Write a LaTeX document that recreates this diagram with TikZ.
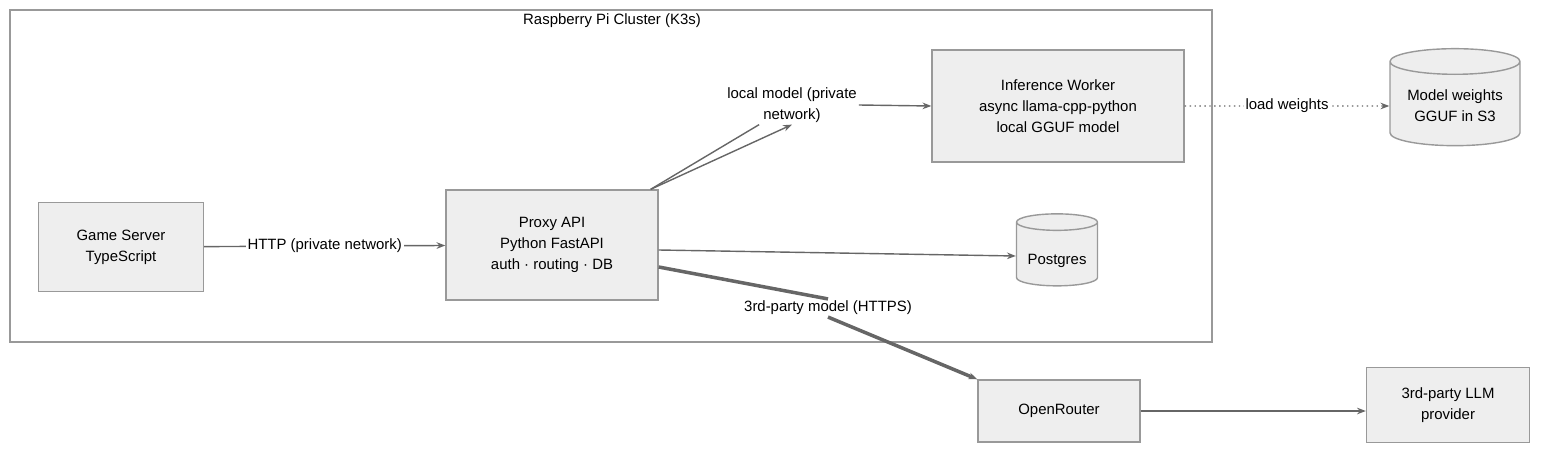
\documentclass[tikz,border=0pt]{standalone}
\usepackage{fontspec}
\setmainfont{Liberation Sans}
\usetikzlibrary{positioning,shapes.geometric,arrows.meta}
\definecolor{boxfill}{HTML}{EEEEEE}
\definecolor{boxline}{HTML}{999999}
\definecolor{edgeline}{HTML}{666666}
\tikzset{
  box/.style = {draw = boxline, fill = boxfill, thick, align = center, inner sep = 0pt},
  db/.style = {cylinder, shape border rotate = 90, aspect = 0.25, draw = boxline,
    fill = boxfill, thick, align = center, inner sep = 2pt},
  edge/.style = {draw = edgeline, thick, -{Stealth[length = 5pt]}},
  lbl/.style = {fill = white, inner sep = 1pt, align = center}
}
\begin{document}
\begin{tikzpicture}[x = 0.02cm, y = -0.02cm, font = \fontsize{8.5}{12}\selectfont]
    \useasboundingbox (0,0) rectangle (1568,470);
    % cluster
    \draw[boxline, thick] (10,10) rectangle (1212,342);
    \node (cluster) at (612,21) {Raspberry Pi Cluster (K3s)};
    % nodes
    \node[box, minimum width = 3.3cm, minimum height = 1.78cm] (game) at (121,247) {Game Server\\TypeScript};
    \node[box, minimum width = 4.24cm, minimum height = 2.2cm] (proxy) at (552,245) {Proxy API\\Python FastAPI\\auth · routing · DB};
    \node[box, minimum width = 5.04cm, minimum height = 2.24cm] (worker) at (1058,106) {Inference Worker\\async llama-cpp-python\\local GGUF model};
    \node[db, minimum width = 2.6cm, minimum height = 1.94cm] (weights) at (1455,106) {Model weights\\GGUF in S3};
    \node[db, minimum width = 1.62cm, minimum height = 1.44cm] (postgres) at (1057,256) {\\Postgres};
    \node[box, minimum width = 3.24cm, minimum height = 1.24cm] (router) at (1059,411) {OpenRouter};
    \node[box, minimum width = 3.26cm, minimum height = 1.5cm] (provider) at (1448,405) {3rd-party LLM\\provider};
    % connectors
    \draw[edge] (game) -- node[lbl] (httplbl) {HTTP (private network)} (proxy);
    \node[lbl] (locallbl) at (792,105) {local model (private\\network)};
    \draw[edge] (proxy.north east) ++(-8,0) coordinate (pa) (pa) -- (locallbl.south);
    \draw[edge] (locallbl.east) -- (worker.west);
    \draw[draw = edgeline, thick, -] (pa) -- (locallbl);
    \draw[edge] (proxy.east) ++(0,5) coordinate (pb) (pb) -- (postgres.west);
    \node[lbl] (thirdlbl) at (828,308) {3rd-party model (HTTPS)};
    \draw[edgeline, line width = 2pt] (proxy.east) ++(0,22) coordinate (pc) (pc) -- (thirdlbl.north);
    \draw[edge, line width = 2pt] (thirdlbl.south) -- (router.north west);
    \draw[edge, dotted] (worker) -- node[lbl] (loadlbl) {load weights} (weights);
    \draw[edge] (router) -- (provider.west |- router);
\end{tikzpicture}
\end{document}
